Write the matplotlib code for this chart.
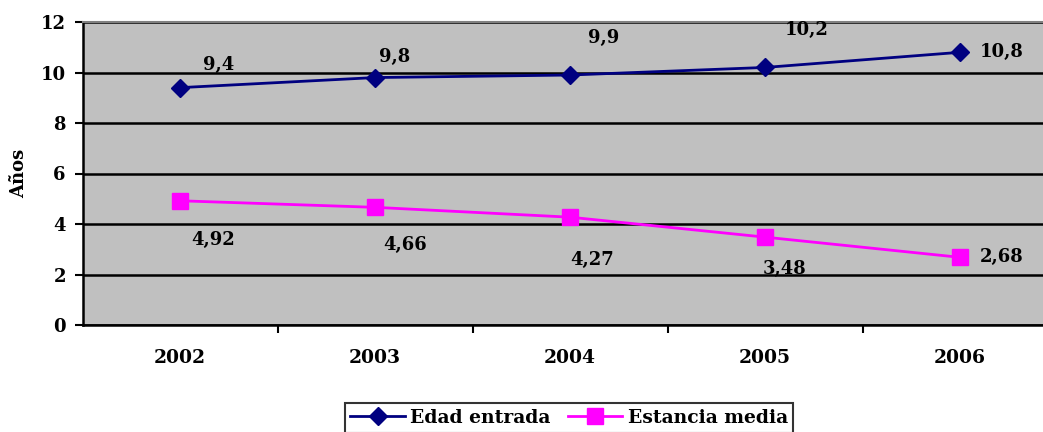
import matplotlib
matplotlib.use("Agg")
import matplotlib.pyplot as plt

years = ["2002", "2003", "2004", "2005", "2006"]
edad_entrada = [9.4, 9.8, 9.9, 10.2, 10.8]
estancia_media = [4.92, 4.66, 4.27, 3.48, 2.68]
edad_labels = ["9,4", "9,8", "9,9", "10,2", "10,8"]
estancia_labels = ["4,92", "4,66", "4,27", "3,48", "2,68"]
yticks = [0, 2, 4, 6, 8, 10, 12]

plt.rcParams['font.family'] = ['DejaVu Serif']
plt.rcParams['font.weight'] = 'bold'
FS = 13

fig = plt.figure(figsize=(10.43, 4.32), dpi=100)
W, H = 1043, 432
ax = fig.add_axes([82.5 / W, 1 - 325 / H, (1043 - 82.5) / W, (325 - 22) / H])
ax.set_facecolor("#c0c0c0")

x = list(range(len(years)))
ax.plot(x, edad_entrada, color="#000080", marker="D", markersize=9, lw=2,
        label="Edad entrada", zorder=3)
ax.plot(x, estancia_media, color="#ff00ff", marker="s", markersize=11, lw=2,
        label="Estancia media", zorder=3)

ax.set_xlim(-0.5, (1043 - 180) / 195)
ax.set_ylim(0, 12)
ax.set_yticks(yticks)
ax.set_yticklabels([str(t) for t in yticks], fontsize=FS, fontweight="bold")
ax.yaxis.grid(True, color="black", lw=1.8)
ax.set_axisbelow(True)

ax.set_xticks(x)
ax.set_xticklabels(years, fontsize=13.5, fontweight="bold")
ax.tick_params(axis="x", length=0, pad=17)
ax.set_xticks([i + 0.5 for i in range(len(years) - 1)], minor=True)
ax.tick_params(axis="x", which="minor", length=6, width=1.5, color="black")
ax.tick_params(axis="y", length=6, width=1.5, color="black", pad=6)

ax.spines["top"].set_color("#808080")
ax.spines["top"].set_linewidth(1.5)
ax.spines["right"].set_visible(False)
ax.spines["left"].set_color("black")
ax.spines["left"].set_linewidth(1.8)
ax.spines["bottom"].set_color("black")
ax.spines["bottom"].set_linewidth(1.8)

ax.set_ylabel("Años", fontsize=FS, fontweight="bold", labelpad=9)

edad_off = [(28, 16), (14, 15), (24, 27), (30, 27), (30, 0)]
est_off = [(24, -28), (22, -27), (16, -31), (14, -23), (30, 0)]
for i in x:
    ax.annotate(edad_labels[i], (i, edad_entrada[i]), xytext=edad_off[i],
                textcoords="offset points", ha="center", va="center",
                fontsize=FS, fontweight="bold")
    ax.annotate(estancia_labels[i], (i, estancia_media[i]), xytext=est_off[i],
                textcoords="offset points", ha="center", va="center",
                fontsize=FS, fontweight="bold")

leg = fig.legend(loc="upper center", bbox_to_anchor=(569 / W, 1 - 394 / H), ncol=2,
                 prop={"size": 13.5, "weight": "bold"}, frameon=True, fancybox=False,
                 edgecolor="black", handlelength=2.9, columnspacing=0.9,
                 handletextpad=0.3, borderpad=0.3)
leg.get_frame().set_linewidth(1.5)

fig.savefig("out.png", dpi=100)
